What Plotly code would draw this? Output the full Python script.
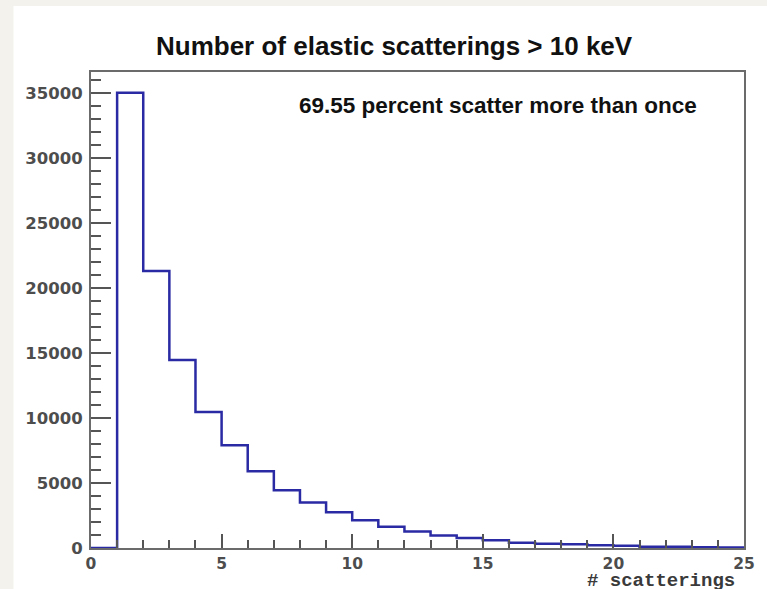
import plotly.graph_objects as go

# Histogram data: bin edges 0..25, counts per unit bin
bin_edges = list(range(0, 26))
counts = [0, 35000, 21300, 14450, 10450, 7900, 5900, 4450, 3500, 2750,
          2130, 1640, 1260, 970, 770, 590, 410, 330, 280, 210,
          180, 100, 90, 50, 30]
x_tickvals = [0, 5, 10, 15, 20, 25]
y_tickvals = [0, 5000, 10000, 15000, 20000, 25000, 30000, 35000]
title_text = "Number of elastic scatterings > 10 keV"
note_text = "69.55 percent scatter more than once"
xaxis_title = "# scatterings"

W, H = 767, 589
L, R, T, B = 91, 748, 72, 548

def px(xp):
    return (xp - L) / (R - L)

def py(yp):
    return (B - yp) / (B - T)

fig = go.Figure()
fig.add_trace(go.Scatter(
    x=bin_edges,
    y=counts + [counts[-1]],
    mode="lines",
    line=dict(shape="hv", color="#2a2aa4", width=2.5),
    hoverinfo="skip",
    showlegend=False,
))

xtickfont = dict(family="DejaVu Sans", size=15.5, color="#4d4d4d", weight="bold")
ytickfont = dict(family="DejaVu Sans", size=16.5, color="#4d4d4d", weight="bold")

fig.update_layout(
    width=W, height=H,
    margin=dict(l=L, r=W - R, t=T, b=H - B, pad=0),
    paper_bgcolor="#f3f2ec",
    plot_bgcolor="white",
    showlegend=False,
    shapes=[dict(type="rect", xref="paper", yref="paper",
                 x0=px(13), x1=px(W + 5), y0=py(H + 5), y1=py(6),
                 fillcolor="white", line=dict(width=0), layer="below")],
    annotations=[
        dict(text=title_text, xref="paper", yref="paper",
             x=px(396), y=py(46), xanchor="center", yanchor="middle",
             showarrow=False,
             font=dict(family="Liberation Sans", size=26, color="#111111", weight="bold")),
        dict(text=note_text, xref="paper", yref="paper",
             x=px(298), y=py(106), xanchor="left", yanchor="middle",
             showarrow=False,
             font=dict(family="Liberation Sans", size=22.5, color="#111111", weight="bold")),
        dict(text=xaxis_title, xref="paper", yref="paper",
             x=px(741), y=py(581), xanchor="right", yanchor="middle",
             showarrow=False,
             font=dict(family="Liberation Mono", size=19, color="#3a3a3a", weight="bold")),
    ],
)

fig.update_xaxes(
    range=[0, 25], tickvals=x_tickvals, ticktext=[str(v) for v in x_tickvals],
    ticks="inside", ticklen=14, tickwidth=1.5, tickcolor="#555555",
    minor=dict(dtick=1, ticks="inside", ticklen=8, tickwidth=1.5, tickcolor="#555555"),
    showgrid=False, zeroline=False,
    showline=True, linecolor="#6b6b6b", linewidth=2, mirror=True,
    tickfont=xtickfont,
)
fig.update_yaxes(
    range=[0, 36600], tickvals=y_tickvals, ticktext=[str(v) for v in y_tickvals],
    ticks="inside", ticklen=20, tickwidth=1.5, tickcolor="#555555",
    minor=dict(dtick=1000, ticks="inside", ticklen=10, tickwidth=1.5, tickcolor="#555555"),
    showgrid=False, zeroline=False,
    showline=True, linecolor="#6b6b6b", linewidth=2, mirror=True,
    tickfont=ytickfont, ticklabelstandoff=3,
)

fig.write_html("out.html")
